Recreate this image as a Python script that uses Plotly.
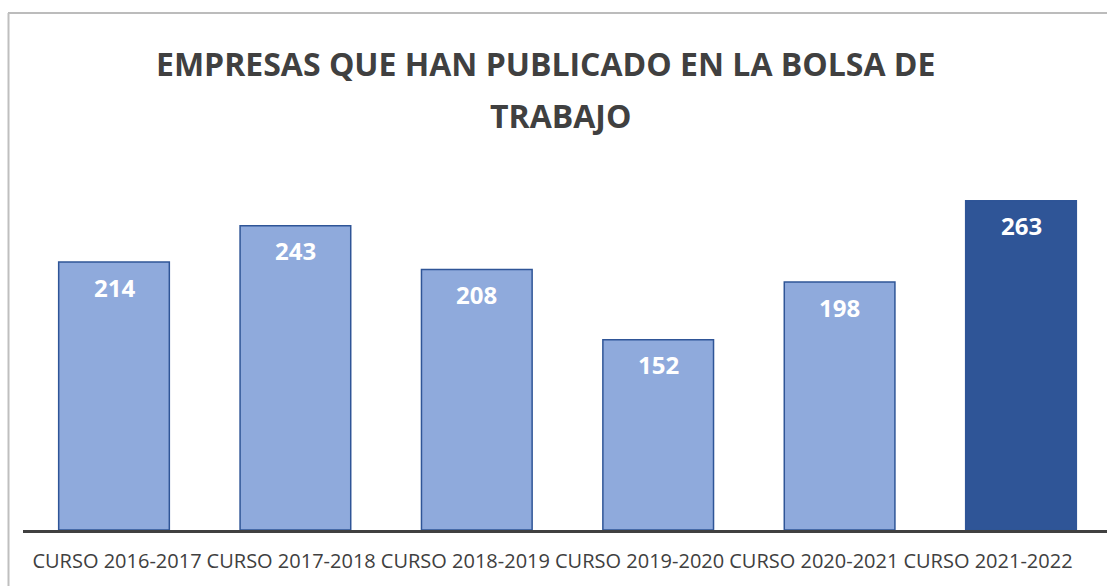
import plotly.graph_objects as go

categories = ["CURSO 2016-2017", "CURSO 2017-2018", "CURSO 2018-2019",
              "CURSO 2019-2020", "CURSO 2020-2021", "CURSO 2021-2022"]
values = [214, 243, 208, 152, 198, 263]
title_lines = ["EMPRESAS QUE HAN PUBLICADO EN LA BOLSA DE", "TRABAJO"]

LIGHT = "#8faadc"
DARK = "#2f5597"
TEXT = "#404040"

W, H = 1107, 586
ML, MR, MT, MB = 23, 0, 150, 56
pw = W - ML - MR
ph = H - MT - MB

colors = [LIGHT] * (len(values) - 1) + [DARK]

fig = go.Figure()
fig.add_trace(go.Bar(
    x=categories, y=values,
    marker=dict(color=colors, line=dict(color=DARK, width=1.5)),
    width=0.61,
    hoverinfo="skip",
))
# invisible carrier trace for the label axis
fig.add_trace(go.Scatter(
    x=categories, y=[0] * len(categories), xaxis="x2", yaxis="y",
    mode="markers", marker=dict(opacity=0), hoverinfo="skip",
))

annotations = []
for c, v in zip(categories, values):
    annotations.append(dict(
        x=c, y=v, xref="x", yref="y", text=str(v), showarrow=False,
        yanchor="middle", yshift=-25,
        font=dict(family="Open Sans", size=24, color="white", weight="bold"),
    ))

def py(pix):
    return (H - MB - pix) / ph

def px(pix):
    return (pix - ML) / pw

annotations.append(dict(x=px(545), y=py(63), xref="paper", yref="paper",
                        text=title_lines[0], showarrow=False,
                        xanchor="center", yanchor="middle",
                        font=dict(family="Open Sans", size=32, color=TEXT, weight="bold")))
annotations.append(dict(x=px(560), y=py(115), xref="paper", yref="paper",
                        text=title_lines[1], showarrow=False,
                        xanchor="center", yanchor="middle",
                        font=dict(family="Open Sans", size=32, color=TEXT, weight="bold")))

shapes = [
    dict(type="line", xref="paper", yref="paper", x0=px(8), x1=px(1115), y0=py(13), y1=py(13),
         line=dict(color="#a6a6a6", width=1.5)),
    dict(type="line", xref="paper", yref="paper", x0=px(8.5), x1=px(8.5), y0=py(13), y1=py(600),
         line=dict(color="#bfbfbf", width=2)),
]

scale = 1.2523
bar_pitch = 181.4
bar_first = 114.0
label_pitch = 174.2
label_first = 117.0
fig.update_layout(
    width=W, height=H,
    margin=dict(l=ML, r=MR, t=MT, b=MB),
    paper_bgcolor="white", plot_bgcolor="white",
    showlegend=False,
    annotations=annotations,
    shapes=shapes,
    xaxis=dict(
        range=[-(bar_first - ML) / bar_pitch, (W - bar_first) / bar_pitch],
        showline=True, linecolor="#404040", linewidth=3,
        showgrid=False, zeroline=False,
        ticks="", showticklabels=False,
    ),
    xaxis2=dict(
        overlaying="x", anchor="y", side="bottom",
        type="category", categoryarray=categories,
        range=[-(label_first - ML) / label_pitch, (W - label_first) / label_pitch],
        showline=False, showgrid=False, zeroline=False,
        ticks="", ticklabelstandoff=17, tickangle=0,
        tickfont=dict(family="Open Sans", size=20, color=TEXT),
    ),
    yaxis=dict(
        range=[0, ph / scale],
        visible=False, showgrid=False, zeroline=False,
    ),
)

fig.write_html(
    "out.html",
    config={"displayModeBar": False},
    post_script="document.body.style.margin='0';document.body.style.overflow='hidden';",
)
